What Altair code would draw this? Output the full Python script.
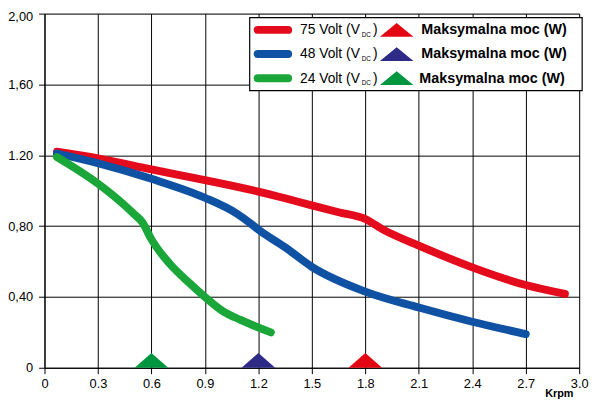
import altair as alt
import pandas as pd

# ---------------- data ----------------
series_names = ["75 Volt", "48 Volt", "24 Volt"]

rpm_75 = [0.07, 0.3, 0.6, 0.9, 1.2, 1.35, 1.5, 1.65, 1.8, 1.9, 2.1, 2.4, 2.7, 2.92]
torque_75 = [1.22, 1.183, 1.12, 1.06, 0.995, 0.957, 0.917, 0.878, 0.84, 0.78, 0.69, 0.567, 0.467, 0.417]

rpm_48 = [0.07, 0.3, 0.6, 0.9, 1.08, 1.15, 1.2, 1.35, 1.5, 1.8, 2.1, 2.4, 2.7]
torque_48 = [1.21, 1.155, 1.067, 0.96, 0.87, 0.82, 0.78, 0.68, 0.57, 0.43, 0.34, 0.26, 0.19]

rpm_24 = [0.07, 0.3, 0.45, 0.5, 0.55, 0.6, 0.7, 0.8, 0.9, 1.0, 1.1, 1.27]
torque_24 = [1.19, 1.04, 0.917, 0.87, 0.82, 0.725, 0.59, 0.49, 0.40, 0.32, 0.27, 0.2]

marker_rpm = [1.8, 1.2, 0.6]
marker_torque = [0, 0, 0]

legend_volt_labels = ["75 Volt (V", "48 Volt (V", "24 Volt (V"]
legend_sub = "DC"
legend_power_label = "Maksymalna moc (W)"

x_ticks = [0, 0.3, 0.6, 0.9, 1.2, 1.5, 1.8, 2.1, 2.4, 2.7, 3.0]
y_ticks = [0, 0.2, 0.4, 0.6, 0.8, 1.0, 1.2, 1.4, 1.6, 1.8, 2.0]
y_label_map = {0: "0", 4: "0,40", 8: "0,80", 10: "Nm", 12: "1.20", 16: "1,60", 20: "2,00"}
x_title = "Krpm"

# ---------------- styles ----------------
line_colors = ["#E30B1C", "#0F52A3", "#1BA63A"]
tri_colors = ["#E30613", "#2E2B86", "#00963F"]
FONT = "Liberation Sans"

rows = []
for name, xs, ys in zip(series_names, [rpm_75, rpm_48, rpm_24], [torque_75, torque_48, torque_24]):
    for a, b in zip(xs, ys):
        rows.append({"series": name, "rpm": a, "torque": b})
df_lines = pd.DataFrame(rows)
df_marks = pd.DataFrame({"series": series_names, "rpm": marker_rpm, "torque": marker_torque})

y_expr = "".join(
    f"round(datum.value*10) == {k} ? '{v}' : " for k, v in y_label_map.items()
) + "''"
x_expr = "datum.value == 0 ? '0' : format(datum.value, '.1f')"

x_enc = alt.X(
    "rpm:Q",
    scale=alt.Scale(domain=[0, 3], nice=False, zero=True),
    axis=alt.Axis(
        values=x_ticks, labelExpr=x_expr, title=x_title,
        titleX=507, titleY=26, titleAlign="left", titleBaseline="middle",
        titleFontSize=11, titleFontWeight="bold", titleFont=FONT, titleColor="black",
        tickSize=6, labelPadding=4, labelFontSize=13, labelFont=FONT, labelColor="black",
        grid=True, gridColor="black", gridWidth=1, gridOpacity=1,
        tickColor="black", domainColor="black", labelFlush=False, labelOverlap=False,
    ),
)
y_enc = alt.Y(
    "torque:Q",
    scale=alt.Scale(domain=[0, 2], nice=False, zero=True),
    axis=alt.Axis(
        values=y_ticks, labelExpr=y_expr, title=None,
        tickSize=6, labelPadding=6, labelFont=FONT, labelColor="black",
        labelFontSize={"condition": {"test": "round(datum.value*10) == 10", "value": 11}, "value": 13},
        labelFontWeight={"condition": {"test": "round(datum.value*10) == 10", "value": "bold"}, "value": "normal"},
        labelOffset={"condition": {"test": "round(datum.value*10) == 20", "value": 2.5}, "value": 0},
        grid=True, gridColor="black", gridWidth=1, gridOpacity=1,
        tickColor="black", domainColor="black", labelFlush=False, labelOverlap=False,
    ),
)

lines = alt.Chart(df_lines).mark_line(
    strokeWidth=8, strokeCap="round", strokeJoin="round", interpolate="monotone"
).encode(
    x=x_enc, y=y_enc,
    color=alt.Color("series:N", scale=alt.Scale(domain=series_names, range=line_colors), legend=None),
    order=alt.Order("rpm:Q"),
)

tri_path_axis = "M-1,0L0,-0.88L1,0Z"
tri_path_leg = "M-1,0.41L0,-0.41L1,0.41Z"

markers = alt.Chart(df_marks).mark_point(
    shape=tri_path_axis, size=1156, filled=True, opacity=1, strokeWidth=0
).encode(
    x="rpm:Q", y="torque:Q",
    fill=alt.Fill("series:N", scale=alt.Scale(domain=series_names, range=tri_colors), legend=None),
)

# ---------------- legend (drawn) ----------------
leg_layers = []
leg_layers.append(
    alt.Chart(pd.DataFrame({"k": [0]})).mark_rect(
        fill="white", stroke="black", strokeWidth=1.2
    ).encode(x=alt.value(208), x2=alt.value(545), y=alt.value(4), y2=alt.value(78))
)
row_y = [16.5, 41, 65.5]
for i in range(3):
    ry = row_y[i]
    leg_layers.append(
        alt.Chart(pd.DataFrame({"k": [0]})).mark_rule(
            color=line_colors[i], strokeWidth=8, strokeCap="round"
        ).encode(x=alt.value(216), x2=alt.value(247), y=alt.value(ry))
    )
    leg_layers.append(
        alt.Chart(pd.DataFrame({"t": [legend_volt_labels[i]]})).mark_text(
            font=FONT, fontSize=14, align="left", baseline="middle", color="black"
        ).encode(text="t:N", x=alt.value(259), y=alt.value(ry + 0.5))
    )
    leg_layers.append(
        alt.Chart(pd.DataFrame({"t": [legend_sub]})).mark_text(
            font=FONT, fontSize=6.5, align="left", baseline="middle", color="black"
        ).encode(text="t:N", x=alt.value(321.5), y=alt.value(ry + 5))
    )
    leg_layers.append(
        alt.Chart(pd.DataFrame({"t": [")"]})).mark_text(
            font=FONT, fontSize=14, align="left", baseline="middle", color="black"
        ).encode(text="t:N", x=alt.value(333), y=alt.value(ry + 0.5))
    )
    leg_layers.append(
        alt.Chart(pd.DataFrame({"k": [0]})).mark_point(
            shape=tri_path_leg, size=1156, filled=True, opacity=1, strokeWidth=0,
            fill=tri_colors[i]
        ).encode(x=alt.value(357), y=alt.value(ry))
    )
    leg_layers.append(
        alt.Chart(pd.DataFrame({"t": [legend_power_label]})).mark_text(
            font=FONT, fontSize=14.5, fontWeight="bold", align="left", baseline="middle", color="black"
        ).encode(text="t:N", x=alt.value(382 if i < 2 else 380), y=alt.value(ry + 0.5))
    )

chart = alt.layer(lines, markers, *leg_layers).properties(
    width=542, height=359,
    autosize=alt.AutoSizeParams(type="none"),
    padding={"left": 37, "top": 3, "right": 14, "bottom": 30},
).configure_view(stroke=None).configure(background="white")

chart.save("out.html", embed_options={"renderer": "svg", "actions": False})
